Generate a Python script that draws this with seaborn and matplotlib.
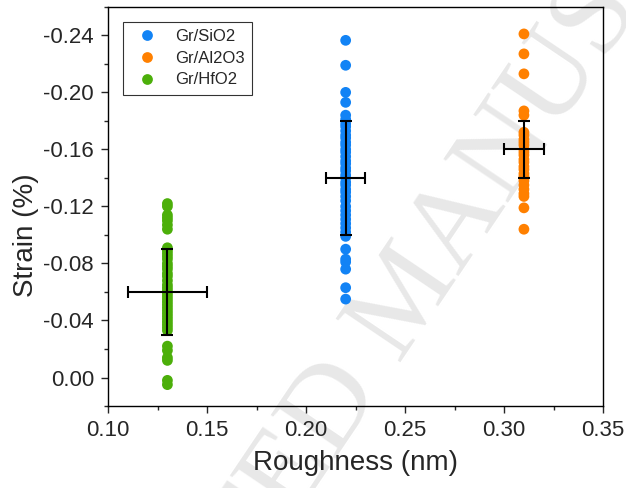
import pandas as pd
import matplotlib
matplotlib.use('Agg')
import matplotlib.pyplot as plt
import seaborn as sns
from matplotlib.ticker import MultipleLocator, FormatStrFormatter

# roughness of each substrate and strain
groups = ['Gr/SiO2', 'Gr/Al2O3', 'Gr/HfO2']
roughness = [0.22, 0.31, 0.13]

strain_sio2 = [-0.2365, -0.219, -0.200, -0.193, -0.184, -0.181, -0.178, -0.176, -0.173,
               -0.170, -0.168, -0.165, -0.163, -0.160, -0.158, -0.155, -0.152, -0.150,
               -0.147, -0.145, -0.142, -0.140, -0.137, -0.135, -0.132, -0.130, -0.127,
               -0.124, -0.120, -0.117, -0.114, -0.111, -0.108, -0.105, -0.102, -0.099,
               -0.090, -0.083, -0.081, -0.076, -0.063, -0.055]
strain_al2o3 = [-0.241, -0.227, -0.213, -0.187, -0.184, -0.172, -0.170, -0.167, -0.165,
                -0.163, -0.160, -0.158, -0.156, -0.153, -0.151, -0.148, -0.146, -0.143,
                -0.141, -0.138, -0.135, -0.132, -0.129, -0.127, -0.119, -0.104]
strain_hfo2 = [-0.122, -0.120, -0.114, -0.112, -0.110, -0.107, -0.104, -0.091, -0.089,
               -0.087, -0.085, -0.083, -0.080, -0.078, -0.076, -0.073, -0.071, -0.068,
               -0.065, -0.063, -0.061, -0.059, -0.057, -0.055, -0.053, -0.051, -0.049,
               -0.047, -0.045, -0.043, -0.041, -0.039, -0.037, -0.035, -0.033, -0.022,
               -0.019, -0.014, -0.012, 0.002, 0.005]

# mean and spread for the crosses
mean_strain = [-0.14, -0.16, -0.06]
err_strain = [0.04, 0.02, 0.03]
err_rough = [0.01, 0.01, 0.02]

colors = {'Gr/SiO2': '#1283f5', 'Gr/Al2O3': '#ff8000', 'Gr/HfO2': '#4caf0a'}

rows = []
for g, r, vals in zip(groups, roughness, [strain_sio2, strain_al2o3, strain_hfo2]):
    for v in vals:
        rows.append({'Sample': g, 'Roughness': r, 'Strain': v})
df = pd.DataFrame(rows)

sns.set_style('ticks')
plt.rcParams['font.family'] = ['Liberation Sans', 'DejaVu Sans']

fig = plt.figure(figsize=(6.26, 4.88), dpi=100)
ax = fig.add_axes([0.1725, 0.168, 0.791, 0.818])
ax.set_facecolor('none')
ax.set_zorder(2)

# faint watermark, kept behind the axes
fig.text(0.655, 0.39, 'ACCEPTED MANUSCRIPT', rotation=56, ha='center', va='center',
         fontsize=86, color='#e8e8e8', family=['Liberation Serif', 'DejaVu Serif'], zorder=-1)

sns.scatterplot(data=df, x='Roughness', y='Strain', hue='Sample', hue_order=groups,
                palette=colors, s=60, linewidth=0, ax=ax, zorder=3)

ax.errorbar(roughness, mean_strain, xerr=err_rough, yerr=err_strain, fmt='none',
            ecolor='black', elinewidth=1.5, capsize=4, capthick=1.5, zorder=4)

ax.set_xlim(0.10, 0.35)
ax.set_ylim(0.02, -0.26)
ax.xaxis.set_major_locator(MultipleLocator(0.05))
ax.xaxis.set_minor_locator(MultipleLocator(0.025))
ax.yaxis.set_major_locator(MultipleLocator(0.04))
ax.yaxis.set_minor_locator(MultipleLocator(0.02))
ax.xaxis.set_major_formatter(FormatStrFormatter('%.2f'))
ax.yaxis.set_major_formatter(plt.FuncFormatter(lambda v, p: '%.2f' % (0.0 if abs(v) < 1e-9 else v)))
ax.tick_params(which='major', direction='out', length=5, width=1, labelsize=16, pad=5)
ax.tick_params(which='minor', direction='out', length=3, width=1)
for sp in ax.spines.values():
    sp.set_linewidth(1)
    sp.set_color('black')

ax.set_xlabel('Roughness (nm)', fontsize=20)
ax.set_ylabel('Strain (%)', fontsize=20)
ax.xaxis.set_label_coords(0.5, -0.11)
ax.yaxis.set_label_coords(-0.14, 0.427)

leg = ax.legend(loc='upper left', bbox_to_anchor=(0.03, 0.963), borderaxespad=0,
                fontsize=12, frameon=True, fancybox=False, edgecolor='black',
                handletextpad=0.7, borderpad=0.45, labelspacing=0.4, markerscale=1.0)
leg.get_frame().set_linewidth(0.8)

fig.savefig('out.png', dpi=100)
